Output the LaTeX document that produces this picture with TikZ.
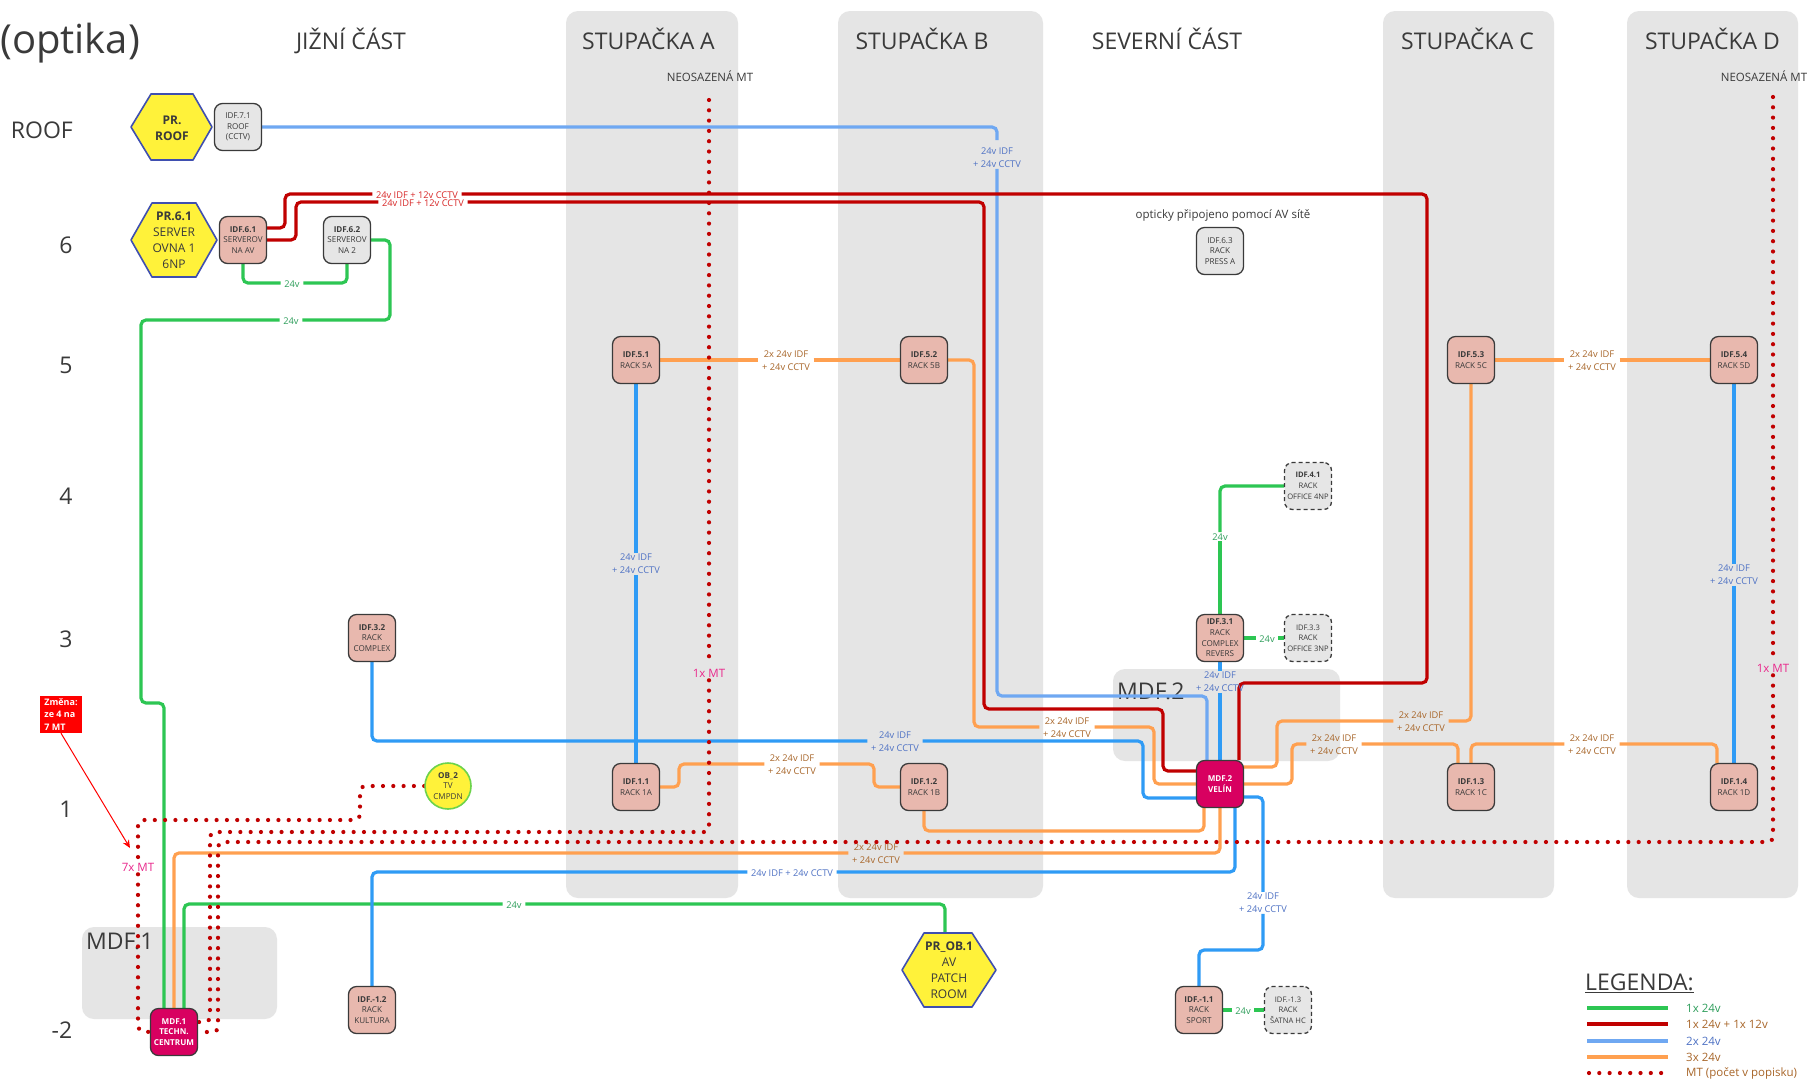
\documentclass[tikz,border=0pt]{standalone}
\usepackage{fontspec}
\setmainfont{Open Sans}
\usetikzlibrary{arrows.meta}
\pgfdeclarelayer{regions}\pgfdeclarelayer{wires}\pgfdeclarelayer{wlabels}\pgfdeclarelayer{mtl}\pgfdeclarelayer{hexes}
\pgfsetlayers{regions,wires,wlabels,mtl,hexes,main}
\definecolor{cgreen}{HTML}{2DC653}\definecolor{cred}{HTML}{C00000}\definecolor{cblue}{HTML}{2F9BF5}\definecolor{clblue}{HTML}{6FA8F2}\definecolor{corange}{HTML}{FFA050}
\definecolor{tgreen}{HTML}{2E9E5B}\definecolor{tred}{HTML}{D82828}\definecolor{tblue}{HTML}{4F72C4}\definecolor{torange}{HTML}{A8662A}\definecolor{tpink}{HTML}{E9288C}
\definecolor{rgray}{HTML}{E5E5E5}\definecolor{npink}{HTML}{E8B8AE}\definecolor{ngray}{HTML}{E6E6E6}\definecolor{nmag}{HTML}{D80060}\definecolor{nyel}{HTML}{FFF23A}\definecolor{hexb}{HTML}{3F4FB0}\definecolor{txt}{HTML}{3A3A3A}
\tikzset{
 region/.style={fill=rgray,rounded corners=12pt,draw=none},
 head/.style={font=\fontsize{23}{26}\selectfont,text=txt,inner sep=0pt},
 headb/.style={head,anchor=base},
 boxn/.style={minimum width=47pt,minimum height=47pt,inner sep=0pt,align=center,rounded corners=8pt,draw=txt,line width=1.3pt,font=\fontsize{8.1}{10.7}\selectfont,text=txt},
 idf/.style={boxn,fill=npink},
 idfg/.style={boxn,fill=ngray},
 idfd/.style={boxn,fill=ngray,dashed,dash pattern=on 4pt off 3pt,font=\fontsize{7.6}{10.7}\selectfont},
 mdf/.style={boxn,fill=nmag,text=white,font=\fontsize{8.1}{10.7}\selectfont\bfseries},
 hextxt/.style={inner sep=0pt,align=center,font=\fontsize{12}{16}\selectfont,text=txt},
 hexs/.style={fill=nyel,draw=hexb,line width=1.6pt,line join=round},
 lab/.style={align=center,inner xsep=3.5pt,inner ysep=1pt,yshift=-0.8pt,font=\fontsize{9.3}{12.7}\selectfont},
 lo/.style={lab,text=torange},lb/.style={lab,text=tblue},lg/.style={lab,text=tgreen},lr/.style={lab,text=tred},
 wire/.style={line width=3.2pt,rounded corners=5pt},
 wg/.style={wire,draw=cgreen},wr/.style={wire,draw=cred},wb/.style={wire,draw=cblue},wl/.style={wire,draw=clblue},wo/.style={wire,draw=corange},
 mt/.style={draw=cred,line width=4.2pt,line cap=round,dash pattern=on 0pt off 10.3pt,rounded corners=5pt},
 mtl/.style={font=\fontsize{11.5}{13}\selectfont,text=tpink,inner xsep=1.5pt,inner ysep=3pt},
 plain/.style={font=\fontsize{11.5}{13}\selectfont,text=txt,inner sep=0pt},
 legt/.style={font=\fontsize{11.5}{13}\selectfont,anchor=west,inner sep=0pt},
}
\begin{document}
\begin{tikzpicture}[x=1pt,y=-1pt]
\useasboundingbox (0,0) rectangle (1809,1080);
\begin{pgfonlayer}{regions}
\fill[white] (0,0) rectangle (1809,1080);
\fill[region] (566,11) rectangle (738,898);
\fill[region] (838,11) rectangle (1043,898);
\fill[region] (1383,11) rectangle (1554,898);
\fill[region] (1627,11) rectangle (1798,898);
\fill[region] (1113,669) rectangle (1340,761);
\fill[region] (82,927) rectangle (277,1019);
\node[head,anchor=west] (tmdf2) at (1117,691) {MDF.2};
\node[head,anchor=west] (tmdf1) at (86,941) {MDF.1};
\end{pgfonlayer}
% titles
\node[anchor=west,inner sep=0pt,text=txt,font=\fontsize{40}{44}\selectfont] (topt) at (0,43.5) {(optika)};
\node[headb] (tj) at (351,49.5) {JIŽNÍ ČÁST};
\node[headb] (ta) at (648.5,49.5) {STUPAČKA A};
\node[headb] (tb) at (922,49.5) {STUPAČKA B};
\node[headb] (ts) at (1167,49.5) {SEVERNÍ ČÁST};
\node[headb] (tc) at (1467.5,49.5) {STUPAČKA C};
\node[headb] (td) at (1712.5,49.5) {STUPAČKA D};
\node[plain] (neoa) at (710,76) {NEOSAZENÁ MT};
\node[plain] (neod) at (1764,76) {NEOSAZENÁ MT};
\node[plain] (optic) at (1223,215) {opticky připojeno pomocí AV sítě};
\node[head,anchor=east] (froof) at (73,130) {ROOF};
\node[head] (f6) at (66,245) {6};
\node[head] (f5) at (66,365) {5};
\node[head] (f4) at (66,496) {4};
\node[head] (f3) at (66,639) {3};
\node[head] (f1) at (66,809) {1};
\node[head] (fm2) at (62,1030) {-2};
% hexagon texts
\node[hextxt] (hroof) at (172,128) {\textbf{PR.}\\\textbf{ROOF}};
\node[hextxt] (h61) at (174,240.5) {\textbf{PR.6.1}\\SERVER\\OVNA 1\\6NP};
\node[hextxt] (hob) at (949,970.5) {\textbf{PR\_OB.1}\\AV\\PATCH\\ROOM};
\begin{pgfonlayer}{hexes}
\draw[hexs] (131,127) -- (151,94) -- (193,94) -- (212,127) -- (193,160) -- (151,160) -- cycle;
\draw[hexs] (131,240) -- (152,203) -- (196,203) -- (217,240) -- (196,277) -- (152,277) -- cycle;
\draw[hexs] (902,970) -- (924,933) -- (972,933) -- (996,970) -- (972,1007) -- (924,1007) -- cycle;
\end{pgfonlayer}
% boxes
\node[idfg] (n71) at (238,127) {IDF.7.1\\ROOF\\(CCTV)};
\node[idf] (n61) at (243,240) {\textbf{IDF.6.1}\\SERVEROV\\NA AV};
\node[idfg] (n62) at (347,240) {\textbf{IDF.6.2}\\SERVEROV\\NA 2};
\node[idfg] (n63) at (1220,251) {IDF.6.3\\RACK\\PRESS A};
\node[idf] (n51) at (636,360) {\textbf{IDF.5.1}\\RACK 5A};
\node[idf] (n52) at (924,360) {\textbf{IDF.5.2}\\RACK 5B};
\node[idf] (n53) at (1471,360) {\textbf{IDF.5.3}\\RACK 5C};
\node[idf] (n54) at (1734,360) {\textbf{IDF.5.4}\\RACK 5D};
\node[idfd] (n41) at (1308,486) {\textbf{IDF.4.1}\\RACK\\OFFICE 4NP};
\node[idf] (n31) at (1220,638) {\textbf{IDF.3.1}\\RACK\\COMPLEX\\REVERS};
\node[idfd] (n33) at (1308,638) {IDF.3.3\\RACK\\OFFICE 3NP};
\node[idf] (n32) at (372,638) {\textbf{IDF.3.2}\\RACK\\COMPLEX};
\node[idf] (n11) at (636,787) {\textbf{IDF.1.1}\\RACK 1A};
\node[idf] (n12) at (924,787) {\textbf{IDF.1.2}\\RACK 1B};
\node[mdf] (mdf2) at (1220,784) {MDF.2\\VELÍN};
\node[idf] (n13) at (1471,787) {\textbf{IDF.1.3}\\RACK 1C};
\node[idf] (n14) at (1734,787) {\textbf{IDF.1.4}\\RACK 1D};
\node[mdf] (mdf1) at (174,1032) {MDF.1\\TECHN.\\CENTRUM};
\node[idf] (nm12) at (372,1010) {\textbf{IDF.-1.2}\\RACK\\KULTURA};
\node[idf] (nm11) at (1199,1010) {\textbf{IDF.-1.1}\\RACK\\SPORT};
\node[idfd] (nm13) at (1288,1010) {IDF.-1.3\\RACK\\ŠATNA HC};
\node[circle,minimum size=46pt,inner sep=0pt,fill=nyel,draw=cgreen!70!nyel,line width=1.6pt,align=center,font=\fontsize{8.1}{10.7}\selectfont,text=txt] (ob2) at (448,786) {\textbf{OB\_2}\\TV\\CMPDN};
% change note
\node[fill=red,text=white,font=\fontsize{9}{12.7}\selectfont\bfseries,align=left,minimum width=42pt,minimum height=37pt,inner sep=1pt] (chg) at (61,714.5) {Změna:\\ze 4 na\\7 MT};
\coordinate (chgend) at (130,848);
\draw[red,line width=1pt,-{Stealth[length=8pt,width=7pt]}] (chg.south) -- (chgend);
% wire labels
\begin{pgfonlayer}{wlabels}
\node[lb] (lroof) at (997,157) {24v IDF\\+ 24v CCTV};
\node[lr,inner ysep=0pt] (lr1) at (417,194) {24v IDF + 12v CCTV};
\node[lr,inner ysep=0pt] (lr2) at (423,202) {24v IDF + 12v CCTV};
\node[lg] (lg6) at (292,283) {24v};
\node[lg] (lg5) at (291,320) {24v};
\node[lg] (lgm) at (514,904) {24v};
\node[lo] (lo51) at (786,360) {2x 24v IDF\\+ 24v CCTV};
\node[lo] (lo53) at (1592,360) {2x 24v IDF\\+ 24v CCTV};
\node[lb] (lb1a) at (636,563) {24v IDF\\+ 24v CCTV};
\node[lb] (lb1d) at (1734,574) {24v IDF\\+ 24v CCTV};
\node[lg] (lg4) at (1220,536) {24v};
\node[lg] (lg3) at (1267,638) {24v};
\node[lg] (lgm1) at (1243,1010) {24v};
\node[lb] (lb31) at (1220,681) {24v IDF\\+ 24v CCTV};
\node[lb] (lb32) at (895,741) {24v IDF\\+ 24v CCTV};
\node[lo] (lo52) at (1067,727) {2x 24v IDF\\+ 24v CCTV};
\node[lo] (lo11) at (792,764) {2x 24v IDF\\+ 24v CCTV};
\node[lo] (lom) at (876,853) {2x 24v IDF\\+ 24v CCTV};
\node[lb] (lbm) at (792,872) {24v IDF + 24v CCTV};
\node[lo] (lo5c) at (1421,721) {2x 24v IDF\\+ 24v CCTV};
\node[lo] (lo1c) at (1334,744) {2x 24v IDF\\+ 24v CCTV};
\node[lo] (lo1d) at (1592,744) {2x 24v IDF\\+ 24v CCTV};
\node[lb] (lbs) at (1263,902) {24v IDF\\+ 24v CCTV};
\end{pgfonlayer}
\node[mtl] (l7x) at (138,867) {7x MT};
\node[mtl] (l1a) at (709,673) {1x MT};
\node[mtl] (l1d) at (1773,668) {1x MT};
% wires
\begin{pgfonlayer}{wires}
\draw[wl] (n71.east) -- (997,127) -- (997,140);
\draw[wl] (lroof.south) -- (997,696) -- (1207,696) -- ([xshift=-13pt]mdf2.north);
\draw[wr] ([yshift=12pt]n61.east) -- (285,228) -- (285,194) -- (lr1.west |- 285,194);
\draw[wr] (lr1.east |- 285,194) -- (1427,194) -- (1427,683) -- (1239,683) -- ([xshift=19pt]mdf2.north);
\draw[wr] (n61.east) -- (296,240) -- (296,202) -- (lr2.west |- 296,202);
\draw[wr] (lr2.east |- 296,202) -- (984,202) -- (984,709) -- (1163,709) -- (1163,771) -- ([yshift=13pt]mdf2.west);
\draw[wg] (n61.south) -- (243,283) -- (lg6.west |- 243,283);
\draw[wg] (lg6.east |- 243,283) -- (347,283) -- (n62.south);
\draw[wg] (n62.east) -- (390,240) -- (390,320) -- (lg5.east |- 390,320);
\draw[wg] (lg5.west |- 390,320) -- (141,320) -- (141,703) -- (164,703) -- ([xshift=-10pt]mdf1.north);
\draw[wg] ([xshift=10pt]mdf1.north) -- (184,904) -- (lgm.west |- 184,904);
\draw[wg] (lgm.east |- 184,904) -- (945,904) -- (945,933);
\draw[wo] (mdf1.north) -- (174,853) -- (lom.west |- 174,853);
\draw[wo] (lom.east |- 174,853) -- (1220,853) -- (mdf2.south);
\draw[wb] (nm12.north) -- (372,872) -- (lbm.west |- 372,872);
\draw[wb] (lbm.east |- 372,872) -- (1235,872) -- ([xshift=15pt]mdf2.south);
\draw[wb] (n32.south) -- (372,741) -- (lb32.west |- 372,741);
\draw[wb] (lb32.east |- 372,741) -- (1143,741) -- (1143,798) -- ([yshift=-14pt]mdf2.west);
\draw[wb] (n51.south) -- (lb1a.north);
\draw[wb] (lb1a.south) -- (n11.north);
\draw[wo] (n51.east) -- (lo51.west |- n51.east);
\draw[wo] (lo51.east |- n51.east) -- (n52.west);
\draw[wo] (n52.east) -- (974,360) -- (974,727) -- (lo52.west |- 974,727);
\draw[wo] (lo52.east |- 974,727) -- (1154,727) -- (1154,784) -- (mdf2.west);
\draw[wo] (n11.east) -- (679,787) -- (679,764) -- (lo11.west |- 679,764);
\draw[wo] (lo11.east |- 679,764) -- (874,764) -- (874,787) -- (n12.west);
\draw[wo] (n12.south) -- (924,831) -- (1204,831) -- ([xshift=-16pt]mdf2.south);
\draw[wo] ([yshift=17pt]mdf2.east) -- (1277,767) -- (1277,721) -- (lo5c.west |- 1277,721);
\draw[wo] (lo5c.east |- 1277,721) -- (1471,721) -- (n53.south);
\draw[wo] (mdf2.east) -- (1292,784) -- (1292,744) -- (lo1c.west |- 1292,744);
\draw[wo] (lo1c.east |- 1292,744) -- (1458,744) -- ([xshift=-13pt]n13.north);
\draw[wo] (n13.north) -- (1471,744) -- (lo1d.west |- 1471,744);
\draw[wo] (lo1d.east |- 1471,744) -- (1717,744) -- ([xshift=-17pt]n14.north);
\draw[wo] (n53.east) -- (lo53.west |- n53.east);
\draw[wo] (lo53.east |- n53.east) -- (n54.west);
\draw[wb] (n54.south) -- (lb1d.north);
\draw[wb] (lb1d.south) -- (n14.north);
\draw[wb] (n31.south) -- (lb31.north);
\draw[wb] (lb31.south) -- (mdf2.north);
\draw[wg] (n31.north) -- (lg4.south);
\draw[wg] (lg4.north) -- (1220,486) -- (n41.west);
\draw[wg] (n31.east) -- (lg3.west |- n31.east);
\draw[wg] (lg3.east |- n31.east) -- (n33.west);
\draw[wg] (nm11.east) -- (lgm1.west |- nm11.east);
\draw[wg] (lgm1.east |- nm11.east) -- (nm13.west);
\draw[wb] ([yshift=-13pt]mdf2.east) -- (1263,797) -- (lbs.north);
\draw[wb] (lbs.south) -- (1263,950) -- (1199,950) -- (nm11.north);
\end{pgfonlayer}
% multitube
\coordinate (mta) at (709,100);
\coordinate (mtd) at (1773,97);
\begin{pgfonlayer}{mtl}
\draw[mt] (ob2.west) -- (360,786) -- (360,820) -- (138,820) -- (l7x.north);
\draw[mt] (l7x.south) -- (138,1031) -- (mdf1.west);
\draw[mt] (mta) -- (l1a.north);
\draw[mt] (l1a.south) -- (709,832) -- (210,832) -- (210,1022) -- ([yshift=10pt]mdf1.east);
\draw[mt] (mtd) -- (l1d.north);
\draw[mt] (l1d.south) -- (1773,842) -- (218,842) -- (218,1032) -- (mdf1.east);
\end{pgfonlayer}
% legend
\node[anchor=west,inner sep=0pt,text=txt,font=\fontsize{23}{26}\selectfont] (lgt) at (1585,983) {\underline{LEGENDA:}};
\coordinate (la1) at (1587,1008);\coordinate (lb1) at (1668,1008);
\coordinate (la2) at (1587,1024);\coordinate (lb2) at (1668,1024);
\coordinate (la3) at (1587,1041);\coordinate (lb3) at (1668,1041);
\coordinate (la4) at (1587,1057);\coordinate (lb4) at (1668,1057);
\coordinate (la5) at (1589,1073);\coordinate (lb5) at (1668,1073);
\draw[wg,line width=3.4pt] (la1) -- (lb1);
\draw[wr,line width=3.4pt] (la2) -- (lb2);
\draw[wl,line width=3.4pt] (la3) -- (lb3);
\draw[wo,line width=3.4pt] (la4) -- (lb4);
\draw[mt] (la5) -- (lb5);
\node[legt,text=tgreen] (lt1) at (1686,1008) {1x 24v};
\node[legt,text=torange] (lt2) at (1686,1024) {1x 24v + 1x 12v};
\node[legt,text=tblue] (lt3) at (1686,1041) {2x 24v};
\node[legt,text=torange] (lt4) at (1686,1057) {3x 24v};
\node[legt,text=torange] (lt5) at (1686,1073) {MT (počet v popisku)};
\end{tikzpicture}
\end{document}
